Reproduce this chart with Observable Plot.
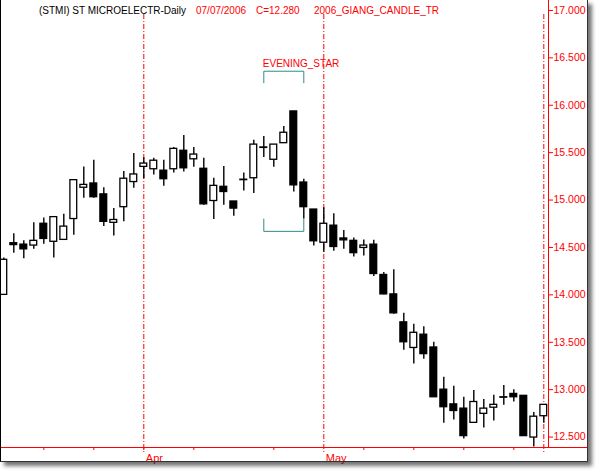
<!DOCTYPE html>
<html>
<head>
<meta charset="utf-8">
<script src="https://cdn.jsdelivr.net/npm/d3@7"></script>
<script src="https://cdn.jsdelivr.net/npm/@observablehq/plot@0.6"></script>
<style>
html, body { margin: 0; padding: 0; background: #fff; }
#wrap { position: relative; width: 596px; height: 471px; overflow: hidden; font-family: Arial, "Liberation Sans", sans-serif; }
#chart { position: absolute; left: 0; top: 0; }
#frame { position: absolute; left: 0; top: 0; width: 588px; height: 462px; box-sizing: border-box;
  border-left: 1px solid #000; border-right: 1px solid #333; border-bottom: 1px solid #333;
  box-shadow: 4px 4px 4px rgba(0,0,0,0.55); pointer-events: none; }
.t { position: absolute; top: 5px; font-size: 10px; line-height: 12px; white-space: nowrap; }
</style>
</head>
<body>
<div id="wrap">
  <div id="chart"></div>
  <div class="t" style="left:39px;color:#000">(STMI) ST MICROELECTR-Daily</div>
  <div class="t" style="left:196px;color:red">07/07/2006</div>
  <div class="t" style="left:256px;color:red">C=12.280</div>
  <div class="t" style="left:314px;color:red">2006_GIANG_CANDLE_TR</div>
  <div id="frame"></div>
</div>
<script>
const dates = [
  "2006-03-14","2006-03-15","2006-03-16","2006-03-17","2006-03-20","2006-03-21","2006-03-22","2006-03-23","2006-03-24",
  "2006-03-27","2006-03-28","2006-03-29","2006-03-30","2006-03-31",
  "2006-04-03","2006-04-04","2006-04-05","2006-04-06","2006-04-07",
  "2006-04-10","2006-04-11","2006-04-12","2006-04-13",
  "2006-04-18","2006-04-19","2006-04-20","2006-04-21",
  "2006-04-24","2006-04-25","2006-04-26","2006-04-27","2006-04-28",
  "2006-05-02","2006-05-03","2006-05-04","2006-05-05",
  "2006-05-08","2006-05-09","2006-05-10","2006-05-11","2006-05-12",
  "2006-05-15","2006-05-16","2006-05-17","2006-05-18","2006-05-19",
  "2006-05-22","2006-05-23","2006-05-24","2006-05-25","2006-05-26",
  "2006-05-29","2006-05-30","2006-05-31","2006-06-01"
];
const open = [
  14.00, 14.545, 14.53, 14.52, 14.75, 14.56, 14.58, 14.80, 15.13,
  15.175, 15.06, 14.76, 14.925, 15.19,
  15.35, 15.325, 15.31, 15.325, 15.52,
  15.43, 15.33, 14.99, 15.14,
  14.985, 15.21, 15.23, 15.55,
  15.425, 15.60, 15.935, 15.185, 14.90,
  14.55, 14.73, 14.595, 14.57,
  14.495, 14.53, 14.21, 14.005, 13.71,
  13.44, 13.58, 13.445, 13.00, 12.845,
  12.80, 12.65, 12.745, 12.81, 12.915,
  12.955, 12.935, 12.495, 12.72
];
const high = [
  14.39, 14.645, 14.57, 14.76, 14.81, 14.82, 14.85, 15.21, 15.35,
  15.42, 15.13, 14.91, 15.30, 15.49,
  15.445, 15.44, 15.42, 15.555, 15.68,
  15.555, 15.44, 15.23, 15.355,
  14.985, 15.285, 15.63, 15.67,
  15.585, 15.775, 15.935, 15.22, 14.90,
  14.92, 14.855, 14.68, 14.60,
  14.58, 14.575, 14.235, 14.265, 13.805,
  13.69, 13.665, 13.50, 13.13, 13.035,
  12.92, 12.99, 12.895, 12.94, 13.045,
  13.00, 12.935, 12.76, 12.84
];
const low = [
  14.00, 14.44, 14.38, 14.48, 14.535, 14.39, 14.58, 14.63, 15.02,
  15.02, 14.72, 14.62, 14.77, 15.125,
  15.225, 15.265, 15.145, 15.285, 15.295,
  15.345, 14.945, 14.795, 14.945,
  14.83, 15.095, 15.07, 15.45,
  15.345, 15.60, 15.085, 14.80, 14.515,
  14.45, 14.46, 14.48, 14.40,
  14.41, 14.195, 14.00, 13.795, 13.415,
  13.27, 13.32, 12.92, 12.645, 12.68,
  12.48, 12.65, 12.595, 12.67, 12.835,
  12.87, 12.51, 12.395, 12.645
];
const close = [
  14.37, 14.525, 14.48, 14.57, 14.59, 14.82, 14.72, 15.21, 15.16,
  15.03, 14.77, 14.79, 15.225, 15.27,
  15.385, 15.415, 15.22, 15.54, 15.335,
  15.48, 14.955, 15.15, 15.085,
  14.91, 15.215, 15.585, 15.555,
  15.585, 15.71, 15.155, 14.925, 14.565,
  14.75, 14.505, 14.575, 14.44,
  14.52, 14.22, 14.005, 13.805, 13.50,
  13.60, 13.375, 12.92, 12.815, 12.775,
  12.51, 12.87, 12.80, 12.84, 12.92,
  12.92, 12.51, 12.715, 12.84
];
const yTicks = [12.5, 13, 13.5, 14, 14.5, 15, 15.5, 16, 16.5, 17];
const pattern = {label: "EVENING_STAR", from: 26, to: 30};

const candles = dates.map((d, i) => ({
  i, date: new Date(d + "T00:00:00Z"),
  open: open[i], high: high[i], low: low[i], close: close[i]
}));
const weekTicks = candles.filter(d => d.date.getUTCDay() === 1).map(d => d.i);
const monthStarts = candles.filter((d, i) => i > 0 && d.date.getUTCMonth() !== candles[i - 1].date.getUTCMonth());

const xMin = -0.33, xMax = 54.47;
const yMin = 12.39, yMax = 17.105;
const monthLabels = monthStarts.filter(d => d.i <= xMax - 3).map(d => ({i: d.i, label: d3.utcFormat("%b")(d.date)}));

const seg = candles.slice(pattern.from, pattern.to + 1);
const hi = d3.max(seg, d => d.high), lo = d3.min(seg, d => d.low);
const teal = "#2e8b8b";
const topBracket = [
  {x: pattern.from, y: hi + 0.302}, {x: pattern.from, y: hi + 0.424},
  {x: pattern.to, y: hi + 0.424}, {x: pattern.to, y: hi + 0.302}
];
const botBracket = [
  {x: pattern.from, y: lo}, {x: pattern.from, y: lo - 0.13},
  {x: pattern.to, y: lo - 0.13}, {x: pattern.to, y: lo}
];

const chart = Plot.plot({
  width: 596, height: 471,
  marginLeft: 0, marginRight: 48, marginTop: 0, marginBottom: 24,
  x: {domain: [xMin, xMax]},
  y: {domain: [yMin, yMax]},
  style: {fontFamily: "Arial, 'Liberation Sans', sans-serif", fontSize: "10px", background: "transparent", overflow: "visible"},
  marks: [
    Plot.ruleX(monthStarts, {x: "i", stroke: "red", strokeWidth: 1, strokeDasharray: "5,2,1,2", insetTop: 14, insetBottom: -6}),
    Plot.line(topBracket, {x: "x", y: "y", stroke: teal, strokeWidth: 1}),
    Plot.line(botBracket, {x: "x", y: "y", stroke: teal, strokeWidth: 1}),
    Plot.text([pattern], {x: "from", y: () => hi + 0.47, text: "label", textAnchor: "start", lineAnchor: "bottom", dx: -1, fill: "red", fontSize: 10}),
    Plot.ruleX(candles, {x: "i", y1: "low", y2: "high", stroke: "black", strokeWidth: 1.4}),
    Plot.rect(candles, {
      x1: d => d.i - 0.34, x2: d => d.i + 0.34, y1: "open", y2: "close",
      fill: d => d.close < d.open ? "black" : "white", stroke: "black", strokeWidth: 1.3
    }),
    Plot.ruleY([yMin], {stroke: "red", insetRight: -39}),
    Plot.ruleX([xMax], {stroke: "red"}),
    Plot.axisY({anchor: "right", ticks: yTicks, tickSize: 4, tickPadding: 1, tickFormat: d3.format(".3f"), color: "red", fontSize: 10.5, label: null}),
    Plot.axisX({anchor: "bottom", ticks: weekTicks, tickSize: 3, tickFormat: () => "", color: "red", label: null}),
    Plot.text(monthLabels, {x: "i", text: "label", frameAnchor: "bottom", textAnchor: "start", lineAnchor: "bottom", dx: 2, dy: 14, fill: "red", fontSize: 11})
  ]
});
document.getElementById("chart").appendChild(chart);
</script>
</body>
</html>
